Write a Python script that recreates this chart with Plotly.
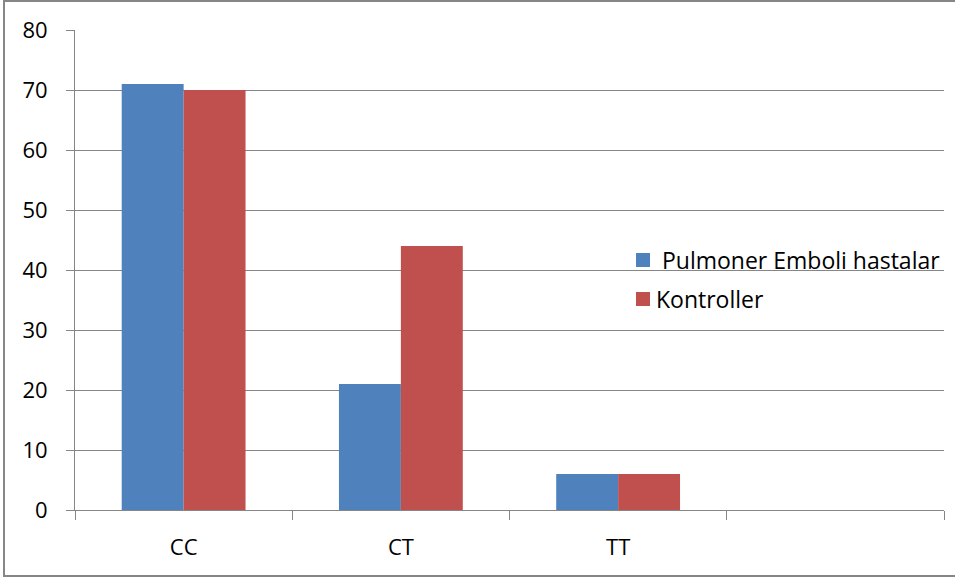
import plotly.graph_objects as go

categories = ["CC", "CT", "TT", " "]
patients = [71, 21, 6, None]
controls = [70, 44, 6, None]
series_names = [" Pulmoner Emboli hastalar", "Kontroller"]
series_colors = ["#4F81BD", "#C0504D"]
y_ticks = [0, 10, 20, 30, 40, 50, 60, 70, 80]

FONT = "Open Sans"
FS = 22
FS_LEG = 23
L, R, T, B = 75, 11, 30, 68
W, H = 955, 578
pw, ph = W - L - R, H - T - B

def px_x(x):
    return (x - L) / pw

def px_y(y):
    return (H - B - y) / ph

fig = go.Figure()
for name, vals, col in zip(series_names, [patients, controls], series_colors):
    fig.add_trace(go.Bar(x=categories, y=vals, name=name,
                         marker=dict(color=col, line=dict(width=0))))

shapes = [dict(type="rect", xref="paper", yref="paper",
               x0=px_x(4), x1=px_x(962), y0=px_y(576), y1=px_y(1),
               line=dict(color="#868686", width=2), fillcolor="rgba(0,0,0,0)",
               layer="below")]
annotations = []
legend_rows = [260, 299]
for name, col, yc in zip(series_names, series_colors, legend_rows):
    shapes.append(dict(type="rect", xref="paper", yref="paper",
                       x0=px_x(636), x1=px_x(650), y0=px_y(yc + 7), y1=px_y(yc - 7),
                       fillcolor=col, line=dict(width=0), layer="above"))
    annotations.append(dict(xref="paper", yref="paper", x=px_x(654), y=px_y(yc),
                            xanchor="left", yanchor="middle", showarrow=False,
                            text=name, font=dict(family=FONT, size=FS_LEG, color="black")))

fig.update_layout(
    width=W, height=H,
    margin=dict(l=L, r=R, t=T, b=B, pad=0),
    paper_bgcolor="white", plot_bgcolor="white",
    barmode="group", bargap=0.43, bargroupgap=0,
    font=dict(family=FONT, size=FS, color="black"),
    showlegend=False,
    xaxis=dict(type="category", categoryorder="array", categoryarray=categories,
               range=[-0.5, 3.5], tickson="boundaries", ticks="outside",
               ticklen=9, tickcolor="#868686", tickwidth=1,
               showline=True, linecolor="#868686", linewidth=1,
               showgrid=False, ticklabelstandoff=18,
               tickfont=dict(size=FS, family=FONT)),
    yaxis=dict(range=[0, 80], tickvals=y_ticks, ticks="outside", ticklen=8,
               tickcolor="#868686", showline=True, linecolor="#868686",
               showgrid=True, gridcolor="#868686", gridwidth=1,
               zeroline=False, ticklabelstandoff=14,
               tickfont=dict(size=FS, family=FONT)),
    shapes=shapes,
    annotations=annotations,
)

fig.write_html("out.html")
